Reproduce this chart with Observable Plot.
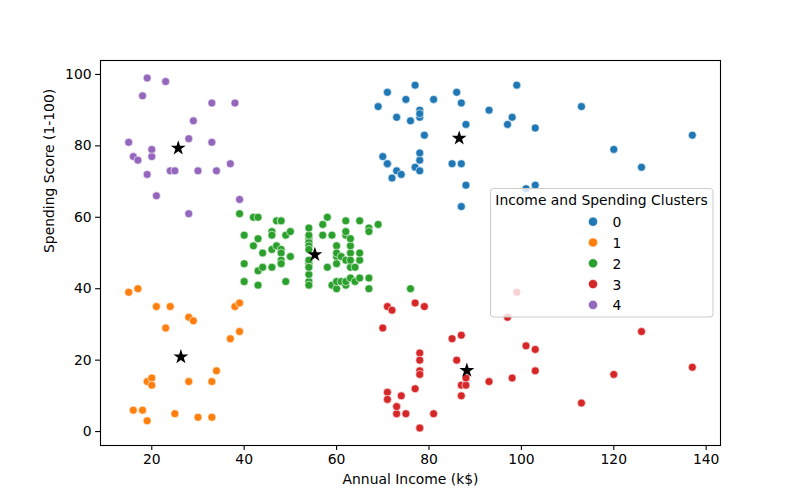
<!DOCTYPE html>
<html>
<head>
<meta charset="utf-8">
<script src="https://cdn.jsdelivr.net/npm/d3@7"></script>
<script src="https://cdn.jsdelivr.net/npm/@observablehq/plot@0.6"></script>
<style>
  html, body { margin: 0; padding: 0; background: white; }
</style>
</head>
<body>
<div id="chart"></div>
<script>
const income = [
  15,15,16,16,17,17,18,18,19,19,
  19,19,20,20,20,20,21,21,23,23,
  24,24,25,25,28,28,28,28,29,29,
  30,30,33,33,33,33,34,34,37,37,
  38,38,39,39,39,39,40,40,40,40,
  42,42,43,43,43,43,44,44,46,46,
  46,46,47,47,48,48,48,48,48,48,
  49,49,50,50,54,54,54,54,54,54,
  54,54,54,54,54,54,57,57,58,58,
  59,59,60,60,60,60,60,60,61,61,
  62,62,62,62,62,62,63,63,63,63,
  63,63,64,64,65,65,65,65,67,67,
  67,67,69,69,70,70,71,71,71,71,
  71,71,72,72,73,73,73,73,74,74,
  75,75,76,76,77,77,77,77,78,78,
  78,78,78,78,78,78,78,78,78,78,
  79,79,81,81,85,85,86,86,87,87,
  87,87,87,87,88,88,88,88,93,93,
  97,97,98,98,99,99,101,101,103,103,
  103,103,113,113,120,120,126,126,137,137
];
const score = [
  39,81,6,77,40,76,6,94,3,72,
  14,99,15,77,13,79,35,66,29,98,
  35,73,5,73,14,82,32,61,31,87,
  4,73,4,92,14,81,17,73,26,75,
  35,92,36,61,28,65,55,47,42,42,
  52,60,54,60,45,41,50,46,51,46,
  56,55,52,59,51,59,50,48,59,47,
  55,42,49,56,47,54,53,48,52,42,
  51,55,41,44,57,46,58,55,60,46,
  55,41,49,40,42,52,47,50,42,49,
  41,48,59,55,56,42,50,46,43,48,
  52,54,42,46,48,50,43,59,43,57,
  56,40,58,91,29,77,35,95,11,75,
  9,75,34,71,5,88,7,73,10,72,
  5,93,40,87,12,97,36,74,22,90,
  17,88,20,76,16,89,1,78,1,73,
  35,83,5,93,26,75,20,95,27,63,
  13,75,10,92,13,86,15,69,14,90,
  32,86,15,88,39,97,24,68,17,85,
  23,69,8,91,16,79,28,74,18,83
];
const cluster = [
  1,4,1,4,1,4,1,4,1,4,
  1,4,1,4,1,4,1,4,1,4,
  1,4,1,4,1,4,1,4,1,4,
  1,4,1,4,1,4,1,4,1,4,
  1,4,1,2,1,4,2,2,2,2,
  2,2,2,2,2,2,2,2,2,2,
  2,2,2,2,2,2,2,2,2,2,
  2,2,2,2,2,2,2,2,2,2,
  2,2,2,2,2,2,2,2,2,2,
  2,2,2,2,2,2,2,2,2,2,
  2,2,2,2,2,2,2,2,2,2,
  2,2,2,2,2,2,2,2,2,2,
  2,2,2,0,3,0,3,0,3,0,
  3,0,3,0,3,0,3,0,3,0,
  3,0,2,0,3,0,3,0,3,0,
  3,0,3,0,3,0,3,0,3,0,
  3,0,3,0,3,0,3,0,3,0,
  3,0,3,0,3,0,3,0,3,0,
  3,0,3,0,3,0,3,0,3,0,
  3,0,3,0,3,0,3,0,3,0
];
const centroidIncome = [86.54, 26.30, 55.30, 88.20, 25.73];
const centroidScore  = [82.13, 20.91, 49.52, 17.11, 79.36];
const clusterLabels = ["0","1","2","3","4"];
const clusterColors = ["#1f77b4","#ff7f0e","#2ca02c","#d62728","#9467bd"];
const xTicks = [20,40,60,80,100,120,140];
const yTicks = [0,20,40,60,80,100];
const legendTitle = "Income and Spending Clusters";

const points = income.map((v, i) => ({income: v, score: score[i], cluster: cluster[i]}));
const centroids = centroidIncome.map((v, i) => ({income: v, score: centroidScore[i]}));

const chart = Plot.plot({
  width: 800,
  height: 500,
  marginLeft: 100,
  marginRight: 80,
  marginTop: 60,
  marginBottom: 55,
  x: {domain: [8.9, 143.1]},
  y: {domain: [-3.9, 103.9]},
  color: {type: "ordinal", domain: [0,1,2,3,4], range: clusterColors},
  style: {fontFamily: "DejaVu Sans", fontSize: "13.9px", background: "white", color: "black"},
  marks: [
    Plot.axisX({ticks: xTicks, tickSize: 4.9, tickPadding: 4, label: null, fontSize: 13.9, strokeWidth: 1.1}),
    Plot.axisY({ticks: yTicks, tickSize: 4.9, tickPadding: 4, label: null, fontSize: 13.9, strokeWidth: 1.1}),
    Plot.dot(points, {x: "income", y: "score", fill: "cluster", r: 4, stroke: "white", strokeWidth: 0.6}),
    Plot.dot(centroids, {x: "income", y: "score", symbol: "star", fill: "black", r: 4.7}),
    Plot.frame({stroke: "black", strokeWidth: 1.1}),
    Plot.text(["Annual Income (k$)"], {text: d => d, frameAnchor: "bottom", dy: 38, fontSize: 13.9}),
    Plot.text(["Spending Score (1-100)"], {text: d => d, frameAnchor: "left", rotate: -90, dx: -51, fontSize: 13.9})
  ]
});
document.getElementById("chart").appendChild(chart);

// Legend (drawn inside the axes, like matplotlib's)
const svg = d3.select(chart);
const lg = svg.append("g").attr("font-family", "DejaVu Sans").attr("font-size", "13.9px");
lg.append("rect")
  .attr("x", 490.5).attr("y", 188.5).attr("width", 222.5).attr("height", 128.5)
  .attr("rx", 3)
  .attr("fill", "white").attr("fill-opacity", 0.8)
  .attr("stroke", "#cccccc").attr("stroke-width", 1);
lg.append("text")
  .attr("x", 601.5).attr("y", 199.5)
  .attr("text-anchor", "middle").attr("dominant-baseline", "central")
  .attr("fill", "black")
  .text(legendTitle);
clusterLabels.forEach((lab, i) => {
  const cy = 221.7 + i * 20.8;
  lg.append("circle").attr("cx", 593).attr("cy", cy).attr("r", 4.6)
    .attr("fill", clusterColors[i]).attr("stroke", "white").attr("stroke-width", 0.6);
  lg.append("text").attr("x", 617).attr("y", cy + 0.5)
    .attr("dominant-baseline", "central").attr("fill", "black").text(lab);
});
</script>
</body>
</html>
